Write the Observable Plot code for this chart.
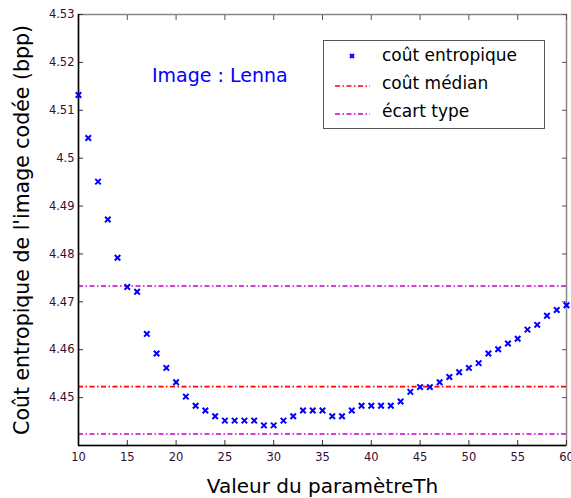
<!DOCTYPE html>
<html>
<head>
<meta charset="utf-8">
<script src="https://cdn.jsdelivr.net/npm/d3@7"></script>
<script src="https://cdn.jsdelivr.net/npm/@observablehq/plot@0.6"></script>
<style>
  html, body { margin: 0; padding: 0; background: #fff; }
  #wrap { position: relative; width: 571px; height: 498px; font-family: "DejaVu Sans", sans-serif; }
  #wrap svg { font-family: "DejaVu Sans", sans-serif; }
  g[aria-label="y-axis label"] text { font-size: 20.5px; fill: #000; }
  g[aria-label="x-axis label"] text { font-size: 20px; fill: #000; }
  #legend { position: absolute; left: 323px; top: 40px; width: 222px; height: 89px; border: 1px solid #555; background: #fff; box-sizing: border-box; }
  #legend .row { position: absolute; left: 0; height: 26px; }
  #legend .row span { position: absolute; left: 58px; top: 1px; font-size: 17px; white-space: nowrap; color: #000; }
  #title { position: absolute; left: 152px; top: 64px; font-size: 19px; color: #0000ff; white-space: nowrap; }
</style>
</head>
<body>
<div id="wrap"></div>
<script>
const th = [10,11,12,13,14,15,16,17,18,19,20,21,22,23,24,25,26,27,28,29,30,31,32,33,34,35,36,37,38,39,40,41,42,43,44,45,46,47,48,49,50,51,52,53,54,55,56,57,58,59,60];
const cost = [4.5132,4.5042,4.4951,4.4872,4.4792,4.4731,4.4721,4.4633,4.4592,4.4562,4.4532,4.4502,4.4483,4.4473,4.4461,4.4452,4.4452,4.4452,4.4452,4.4442,4.4442,4.4452,4.4461,4.4473,4.4473,4.4473,4.4461,4.4461,4.4473,4.4483,4.4483,4.4483,4.4483,4.4492,4.4512,4.4522,4.4522,4.4532,4.4543,4.4553,4.4562,4.4572,4.4592,4.4601,4.4613,4.4623,4.4642,4.4652,4.4671,4.4683,4.4693];
const medianCost = 4.4523;
const stdLines = [4.4424, 4.4733];
const xTicks = [10,15,20,25,30,35,40,45,50,55,60];
const yTicks = [4.45,4.46,4.47,4.48,4.49,4.5,4.51,4.52,4.53];
const seriesNames = ["coût entropique", "coût médian", "écart type"];
const seriesColors = ["#0000ff", "#ff0000", "#cc00cc"];
const chartTitle = "Image : Lenna";
const xLabel = "Valeur du paramètreTh";
const yLabel = "Coût entropique de l'image codée (bpp)";

const data = th.map((t, i) => ({th: t, cost: cost[i]}));
const dash = "5,2.5,1.5,2.5";
const tickColor = "#301030";

const chart = Plot.plot({
  width: 571,
  height: 498,
  marginLeft: 78,
  marginRight: 5,
  marginTop: 14,
  marginBottom: 53,
  style: {fontSize: "11.5px", background: "#fff", overflow: "visible"},
  x: {domain: [10, 60]},
  y: {domain: [4.44, 4.53]},
  marks: [
    Plot.frame({stroke: "#888", strokeWidth: 1.5}),
    Plot.ruleY([medianCost], {stroke: seriesColors[1], strokeWidth: 1.6, strokeDasharray: dash}),
    Plot.ruleY(stdLines, {stroke: seriesColors[2], strokeWidth: 1.6, strokeDasharray: dash}),
    Plot.axisX(xTicks, {anchor: "bottom", tickSize: -5, tickPadding: 12, color: tickColor, stroke: "#333",
      label: xLabel, labelAnchor: "center", labelArrow: "none", labelOffset: 47}),
    Plot.axisX(xTicks, {anchor: "top", tickSize: -5, text: null, label: null, stroke: "#555"}),
    Plot.axisY(yTicks, {anchor: "left", tickSize: -5, tickPadding: 9, color: tickColor, stroke: "#333",
      tickFormat: d => String(+d.toFixed(2)),
      label: yLabel, labelAnchor: "center", labelArrow: "none", labelOffset: 64}),
    Plot.axisY(yTicks, {anchor: "right", tickSize: -5, text: null, label: null, stroke: "#555"}),
    Plot.ruleX([10], {stroke: "#000", strokeWidth: 1.5}),
    Plot.ruleY([4.44], {stroke: "#000", strokeWidth: 1.5}),
    Plot.dot(data, {x: "th", y: "cost", symbol: "times", r: 2.6, stroke: seriesColors[0], strokeWidth: 2})
  ]
});

const wrap = document.getElementById("wrap");
wrap.appendChild(chart);

const title = document.createElement("div");
title.id = "title";
title.textContent = chartTitle;
wrap.appendChild(title);

const legend = document.createElement("div");
legend.id = "legend";
seriesNames.forEach((name, i) => {
  const row = document.createElement("div");
  row.className = "row";
  row.style.top = (3 + i * 28) + "px";
  row.style.width = "220px";
  let sym;
  if (i === 0) {
    sym = `<svg width="50" height="26" style="position:absolute;left:0;top:0"><path d="M26,10 l4,4 M30,10 l-4,4" stroke="${seriesColors[0]}" stroke-width="2"/></svg>`;
  } else {
    sym = `<svg width="50" height="26" style="position:absolute;left:0;top:0"><line x1="11" x2="46" y1="14" y2="14" stroke="${seriesColors[i]}" stroke-width="1.6" stroke-dasharray="${dash}"/></svg>`;
  }
  row.innerHTML = sym + `<span>${name}</span>`;
  legend.appendChild(row);
});
wrap.appendChild(legend);
</script>
</body>
</html>
